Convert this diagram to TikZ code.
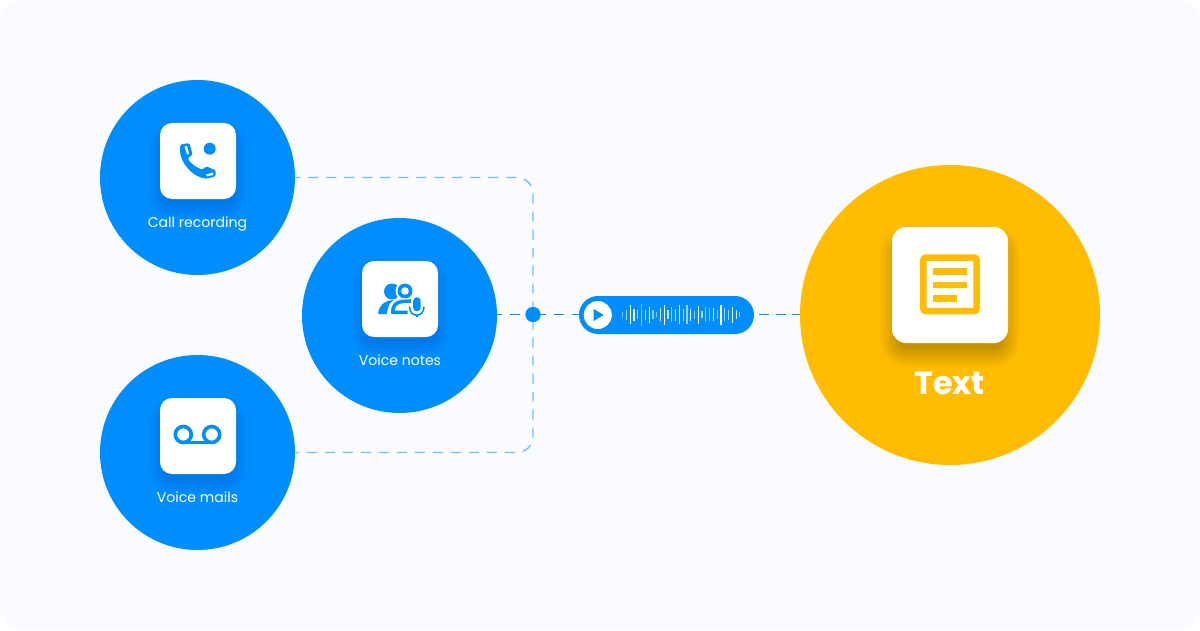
\documentclass[tikz,border=0pt]{standalone}
\usepackage{fontspec}
\setmainfont{Poppins}
\def\u{0.025cm}
\definecolor{callblue}{HTML}{008EFF}
\definecolor{linkblue}{HTML}{70BFFF}
\definecolor{textgold}{HTML}{FFBC00}
\definecolor{panelbg}{HTML}{F9FBFF}
\newcommand{\softshadow}[5]{
\foreach \e in {1,...,14}{
\fill[black,opacity=#4,rounded corners=6*\u+\e*1.4*\u] ({#1-#3+8-\e*1.4},{#2-#3+8-\e*1.4+#5}) rectangle ({#1+#3-8+\e*1.4},{#2+#3-8+\e*1.4+#5});
}}
\begin{document}
\begin{tikzpicture}[x=\u,y=-\u,
source/.style={shape=circle,fill=callblue,minimum size=195*\u,inner sep=0},
target/.style={shape=circle,fill=textgold,minimum size=300*\u,inner sep=0},
tile/.style={fill=white,rounded corners=12*\u,minimum size=76*\u,inner sep=0},
tileB/.style={tile,rounded corners=14*\u,minimum size=116*\u},
caption/.style={text=white,font=\fontsize{10}{12}\selectfont,inner sep=0,anchor=base},
captionB/.style={text=white,font=\fontsize{22.8}{26}\selectfont\bfseries,inner sep=0,anchor=base},
linkA/.style={draw=linkblue,line width=1.4*\u,dash pattern=on 7.1pt off 5.7pt,dash phase=3.55pt},
linkB/.style={linkA,draw=callblue},
linkC/.style={linkB,dash pattern=on 7.1pt off 4.6pt,dash phase=8.2pt},
hub/.style={shape=circle,fill=callblue,minimum size=15*\u,inner sep=0},
wave/.style={fill=callblue,rounded corners=19*\u,minimum width=175*\u,minimum height=38*\u,inner sep=0},
playbtn/.style={shape=circle,fill=white,minimum size=28*\u,inner sep=0},
wavebar/.style={draw=white,line width=1.2*\u},
icon/.style={fill=callblue,draw=none},
iconline/.style={draw=callblue,line width=3.6*\u}]
\def\dyc{16};

\useasboundingbox (0,0) rectangle (1200,630);
\fill[panelbg,rounded corners=20*\u] (0,0) rectangle (1200,630);

\node[hub] (H) at (533,314.5) {};
\node[source] (C) at (197.5,177.5) {};
\node[source] (N) at (399.5,315.5) {};
\node[source] (M) at (197.5,452.5) {};
\node[target] (T) at (950,315) {};
\node[wave] (W) at (666.5,315) {};

\draw[linkA,rounded corners=\dyc*\u] (C.east) -- (C.east -| H) -- (M.east -| H) -- (M.east);
\draw[linkB] (N.east |- H) -- (H);
\draw[linkB] (H) -- (W.west |- H);
\draw[linkC] (W.east |- H) -- (T.west |- H);
\node[hub] (H2) at (H) {};

\softshadow{198}{161}{38}{0.009}{9}
\softshadow{400}{299}{38}{0.009}{9}
\softshadow{198}{436}{38}{0.009}{9}
\softshadow{950}{285}{58}{0.016}{12}

\node[tile] (Ct) at (198,161) {};
\node[tile] (Nt) at (400,299) {};
\node[tile] (Mt) at (198,436) {};
\node[tileB] (Tt) at (950,285) {};

\node[caption] (Cl) at (197.5,227) {Call recording};
\node[caption] (Nl) at (400,365) {Voice notes};
\node[caption] (Ml) at (197.5,502) {Voice mails};
\node[captionB] (Tl) at (949.5,394) {Text};

\fill[icon] (209.7,148.7) circle (6);
\fill[icon,rounded corners=1.5*\u] (180,144.7) -- (189.3,143) -- (192.7,154.7) -- (187.7,158) .. controls (190,163) and (197,168) .. (202.7,169.7) -- (206,166.3) -- (215.7,170.3) -- (215.7,176.3) -- (206.7,178.7) .. controls (192,177) and (180,162) .. (180,149) -- cycle;
\fill[white] (184.6,146.5) -- (187,146) -- (189,153.5) -- (187,154.5) -- cycle;
\fill[white] (206,174.5) -- (213,172.5) -- (213,175) -- (207,176.5) -- cycle;

\fill[icon] (392,291.5) circle (8);
\fill[icon] (378.3,314) .. controls (378.3,306) and (384,300.5) .. (394,300) -- (396,305) .. controls (392,308) and (389.5,310) .. (389.5,314) -- cycle;
\fill[white] (405,291) circle (9.5);
\fill[icon] (405,291) circle (7.5);
\fill[white] (405,291) circle (3.8);
\fill[white] (387,316) .. controls (387,305) and (392,298.5) .. (400,298.5) -- (416,298.5) -- (416,316) -- cycle;
\draw[iconline,line join=round] (407.5,312.3) -- (392.7,312.3) .. controls (392.5,306) and (396,302) .. (402,301.5) -- (411,301);
\fill[white,rounded corners=5*\u] (411,295) rectangle (423,317);
\fill[icon,rounded corners=3.5*\u] (413.2,297.3) rectangle (420.6,311.3);
\draw[draw=callblue,line width=1.6*\u] (409.5,306.7) .. controls (409.5,318) and (424,318) .. (424,306.7);
\draw[draw=callblue,line width=1.6*\u] (416.8,315) -- (416.8,317);

\draw[iconline] (183.3,434.5) circle (8);
\draw[iconline] (211.7,434.5) circle (8);
\draw[iconline] (183.3,442.5) -- (211.7,442.5);

\draw[draw=textgold,line width=6.5*\u,rounded corners=2.5*\u] (923.3,257.6) rectangle (976.7,311);
\fill[textgold] (933.3,268.3) rectangle (966.7,275);
\fill[textgold] (933.3,281.7) rectangle (966.7,288.3);
\fill[textgold] (933.3,295) rectangle (956.7,301.7);

\node[playbtn] (P) at (597.8,315) {};
\fill[callblue] (593.7,309) -- (603.7,315) -- (593.7,321) -- cycle;
\foreach \h/\o [count=\k from 0] in {6/.45,10/.6,19/1,12/.9,9/.6,22/.5,10/.7,16/.95,9/.55,5/.5,13/.8,20/1,9/.8,15/.55,12/.75,19/.95,12/.7,19/.6,12/.9,8/.55,18/.95,7/.65,15/.55,13/.55,13/.8,9/.6,20/1,13/.6,10/.6,16/.9,9/.8,5/.5}{
\draw[wavebar,opacity=\o] ({622.7+3.78*\k},{314.5-\h/2}) -- ({622.7+3.78*\k},{314.5+\h/2});
}
\end{tikzpicture}
\end{document}
